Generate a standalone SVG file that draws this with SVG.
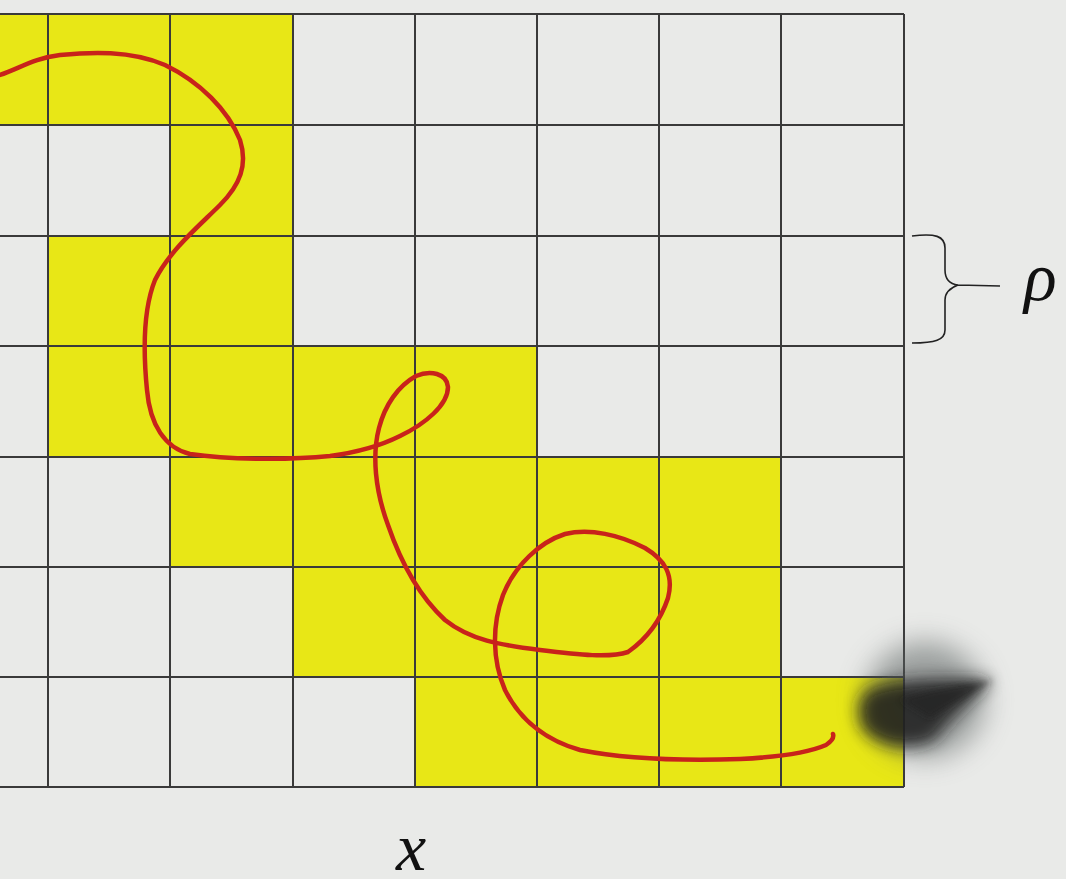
<svg xmlns="http://www.w3.org/2000/svg" width="1066" height="879" viewBox="0 0 1066 879">
<defs>
<style>
.y{fill:#e8e716}
.g{stroke:#3a3a3a;stroke-width:2;fill:none}
.c{stroke:#c8231b;stroke-width:4.5;fill:none;stroke-linecap:round;stroke-linejoin:round}
.t{font-family:"Liberation Serif","DejaVu Serif",serif;font-style:italic;fill:#111}
</style>
<filter id="blur" x="-50%" y="-50%" width="200%" height="200%"><feGaussianBlur stdDeviation="14"/></filter>
<filter id="blur2" x="-50%" y="-50%" width="200%" height="200%"><feGaussianBlur stdDeviation="8"/></filter>
<filter id="blur3" x="-50%" y="-50%" width="200%" height="200%"><feGaussianBlur stdDeviation="3"/></filter>
</defs>
<rect width="1066" height="879" fill="#e9eae8"/>
<g id="cells">
<rect class="y" x="0" y="14" width="293" height="111"/>
<rect class="y" x="170" y="125" width="123" height="111"/>
<rect class="y" x="48" y="236" width="245" height="110"/>
<rect class="y" x="48" y="346" width="489" height="111"/>
<rect class="y" x="170" y="457" width="611" height="110"/>
<rect class="y" x="293" y="567" width="488" height="110"/>
<rect class="y" x="415" y="677" width="489" height="110"/>
</g>
<g id="grid">
<path class="g" d="M0 14H904M0 125H904M0 236H904M0 346H904M0 457H904M0 567H904M0 677H904M0 787H904"/>
<path class="g" d="M48 14V787M170 14V787M293 14V787M415 14V787M537 14V787M659 14V787M781 14V787M904 14V787"/>
</g>
<g id="path">
<path class="c" d="M0 75 C20 68 35 58 60 55 C90 52 130 50 165 65 C200 82 228 110 240 140 C248 165 240 185 220 205 C200 225 170 250 155 280 C143 310 143 350 147 390 C150 425 165 448 190 454 C230 460 290 460 330 456 C360 452 380 446 400 436 C425 424 448 405 448 387 C447 373 430 370 416 376 C398 386 385 405 379 428 C372 455 375 490 388 525 C400 560 418 595 445 620 C470 640 500 645 540 650 C580 655 610 658 628 652 C645 640 660 622 668 598 C674 575 665 560 645 548 C620 535 590 528 565 534 C540 542 515 565 503 595 C492 625 492 660 505 690 C520 720 545 740 580 750 C620 758 680 761 740 759 C780 757 810 752 826 745 C832 741 834 737 833 734"/>
</g>
<g id="smudge">
<ellipse cx="925" cy="700" rx="60" ry="58" fill="#5a6060" opacity="0.55" filter="url(#blur)"/>
<path d="M868 690 C895 678 940 678 992 680 C975 698 950 718 935 740 C910 752 878 748 862 728 C856 712 858 698 868 690Z" fill="#1a1c1a" opacity="0.85" filter="url(#blur2)"/>
<path d="M900 700 C930 690 960 685 993 680 C970 695 950 705 930 718 Z" fill="#222" opacity="0.6" filter="url(#blur3)"/>
</g>
<g id="brace">
<path d="M912 236 C935 233 945 236 945 248 L945 270 C945 280 950 284 958 285 L1000 286 M958 285 C950 288 945 292 945 300 L945 330 C945 340 935 343 912 343" fill="none" stroke="#222" stroke-width="1.6"/>
</g>
<text class="t" x="1024" y="300" font-size="68">ρ</text>
<text class="t" x="396" y="870" font-size="68">x</text>
</svg>
